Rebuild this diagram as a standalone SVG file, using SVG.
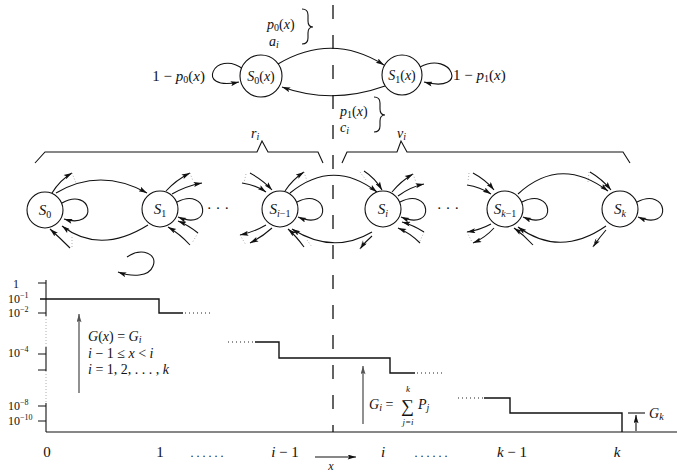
<svg xmlns="http://www.w3.org/2000/svg" width="677" height="472" viewBox="0 0 677 472">
<defs>
<marker id="ah" viewBox="0 0 10 6" refX="10" refY="3" markerWidth="9" markerHeight="5" orient="auto" markerUnits="userSpaceOnUse"><path d="M0,0 L10,3 L0,6 L2,3 z" fill="#111"/></marker>
<marker id="ahg" viewBox="0 0 10 6" refX="10" refY="3" markerWidth="9" markerHeight="5" orient="auto" markerUnits="userSpaceOnUse"><path d="M0,0 L10,3 L0,6 L2,3 z" fill="#555"/></marker>
</defs>
<style>
text{font-family:"Liberation Serif",serif;fill:#111}
.m{font-style:italic}
.lbl{font-size:14px}
.nd{font-size:15px;text-anchor:middle}
.sub{font-size:10px;font-style:normal}
.subi{font-size:10px;font-style:italic}
circle{fill:#fff;stroke:#111;stroke-width:1.1}
.e{fill:none;stroke:#111;stroke-width:1.1}
.a{fill:none;stroke:#111;stroke-width:1.1;marker-end:url(#ah)}
.g{fill:none;stroke:#555;stroke-width:1.3;marker-end:url(#ahg)}
.dot{fill:none;stroke:#999;stroke-width:0.8;stroke-dasharray:1 2}
.dk{fill:none;stroke:#222;stroke-width:1;stroke-dasharray:1 3}
.st{fill:none;stroke:#111;stroke-width:1.4}
.ax{font-size:12px}
.xl{font-size:15px;text-anchor:middle}
</style>

<!-- dashed divider -->
<line x1="333" y1="5" x2="333" y2="432" stroke="#111" stroke-width="1.3" stroke-dasharray="14 16"/>

<!-- connectors -->
<g id="connectors">
  <!-- top two-state chain -->
  <path class="a" d="M278,64 Q332,32 384,65"/>
  <path class="a" d="M385,86 Q332,105 282,87"/>
  <path class="a" d="M243,69 C215,48 193,92 239,82"/>
  <path class="a" d="M420,67 C452,50 470,94 424,82"/>
  <!-- braces -->
  <path class="e" d="M302,9 Q308,9 308,15 L308,21 Q308,27 313,27 Q308,27 308,33 L308,38 Q308,44 302,44"/>
  <path class="e" d="M374,97 Q380,97 380,103 L380,109 Q380,115 385,115 Q380,115 380,121 L380,126 Q380,132 374,132"/>
  <polyline class="e" points="35,163 45,152 257,152 262,141 268,152 318,152 323,163"/>
  <polyline class="e" points="342,163 347,152 397,152 401,141 407,152 623,152 630,163"/>
  <!-- S0 -->
  <path class="a" d="M52,193 Q60,180 72,173"/>
  <path class="dot" d="M72,173 L76,183"/>
  <path class="a" d="M62,203 C92,186 100,230 64,219"/>
  <path class="a" d="M70,248 Q60,238 50,229"/>
  <path class="dot" d="M72,247 L72,236"/>
  <path class="a" d="M56,193 Q100,167 147,193"/>
  <path class="a" d="M148,225 Q100,255 62,226"/>
  <!-- S1 -->
  <path class="a" d="M166,191 Q176,180 190,173"/>
  <path class="a" d="M172,194 Q186,186 202,183"/>
  <path class="dot" d="M190,173 L193,181"/>
  <path class="a" d="M198,233 Q188,225 178,221"/>
  <path class="a" d="M190,245 Q180,234 168,227"/>
  <path class="dot" d="M198,233 L192,243"/>
  <path class="a" d="M177,202 C208,186 214,232 178,217"/>
  <!-- S_{i-1} -->
  <path class="a" d="M242,183 Q256,185 266,192"/>
  <path class="a" d="M250,173 Q263,180 272,190"/>
  <path class="dot" d="M246,174 L244,183"/>
  <path class="a" d="M285,191 Q292,180 304,172"/>
  <path class="dot" d="M304,172 L307,181"/>
  <path class="a" d="M266,225 Q254,232 240,235"/>
  <path class="a" d="M272,228 Q262,237 250,243"/>
  <path class="dot" d="M240,235 L246,245"/>
  <path class="a" d="M304,247 Q296,236 288,229"/>
  <path class="a" d="M297,202 C328,186 334,232 298,217"/>
  <path class="a" d="M290,193 Q333,158 377,192"/>
  <path class="a" d="M372,232 Q333,255 292,229"/>
  <path class="dot" d="M307,240 L312,247"/>
  <!-- S_i -->
  <path class="a" d="M364,171 Q375,178 382,190"/>
  <path class="dot" d="M360,172 L366,180"/>
  <path class="a" d="M392,192 Q401,181 413,174"/>
  <path class="a" d="M398,196 Q410,187 424,184"/>
  <path class="dot" d="M413,174 L416,182"/>
  <path class="a" d="M424,232 Q413,225 402,222"/>
  <path class="a" d="M420,243 Q410,233 398,228"/>
  <path class="dot" d="M424,232 L420,241"/>
  <path class="a" d="M372,236 Q365,242 360,249"/>
  <path class="dot" d="M360,249 L363,240"/>
  <path class="a" d="M400,202 C431,186 437,232 401,217"/>
  <!-- S_{k-1} -->
  <path class="a" d="M467,185 Q480,187 491,194"/>
  <path class="a" d="M473,173 Q486,180 494,190"/>
  <path class="dot" d="M469,173 L468,182"/>
  <path class="a" d="M491,224 Q480,230 467,232"/>
  <path class="a" d="M494,228 Q485,238 473,243"/>
  <path class="dot" d="M467,232 L472,242"/>
  <path class="a" d="M533,245 Q524,235 514,228"/>
  <path class="a" d="M522,202 C553,186 559,232 523,217"/>
  <path class="a" d="M518,194 Q560,155 608,191"/>
  <path class="a" d="M606,226 Q560,258 518,227"/>
  <path class="dot" d="M589,172 L588,182"/>
  <!-- S_k -->
  <path class="a" d="M590,172 Q602,179 611,190"/>
  <path class="a" d="M606,230 Q599,238 593,247"/>
  <path class="dot" d="M593,247 L597,238"/>
  <path class="a" d="M637,202 C668,186 674,232 638,217"/>
  <!-- stray loop -->
  <path class="a" d="M127,257 C142,247 158,254 153,266 C149,277 132,277 118,272"/>
</g>

<!-- top nodes -->
<g id="S0x"><circle cx="261" cy="76" r="21"/><text class="nd" x="261" y="81" style="font-size:14px"><tspan class="m">S</tspan><tspan class="sub" dy="3">0</tspan><tspan dy="-3">(</tspan><tspan class="m">x</tspan>)</text></g>
<g id="S1x"><circle cx="402" cy="75" r="20"/><text class="nd" x="402" y="80" style="font-size:14px"><tspan class="m">S</tspan><tspan class="sub" dy="3">1</tspan><tspan dy="-3">(</tspan><tspan class="m">x</tspan>)</text></g>

<g id="toplabels">
<text class="lbl" x="267" y="29"><tspan class="m">p</tspan><tspan class="sub" dy="2">0</tspan><tspan dy="-2">(</tspan><tspan class="m">x</tspan>)</text>
<text class="lbl m" x="269" y="46">a<tspan class="subi" dy="2">i</tspan></text>
<text class="lbl" x="340" y="116"><tspan class="m">p</tspan><tspan class="sub" dy="2">1</tspan><tspan dy="-2">(</tspan><tspan class="m">x</tspan>)</text>
<text class="lbl m" x="340" y="132">c<tspan class="subi" dy="2">i</tspan></text>
<text class="lbl" x="205" y="81" text-anchor="end" style="font-size:15px">1  −  <tspan class="m">p</tspan><tspan class="sub" dy="2">0</tspan><tspan dy="-2">(</tspan><tspan class="m">x</tspan>)</text>
<text class="lbl" x="453" y="80" style="font-size:15px">1  −  <tspan class="m">p</tspan><tspan class="sub" dy="2">1</tspan><tspan dy="-2">(</tspan><tspan class="m">x</tspan>)</text>
<text class="lbl m" x="251" y="138">r<tspan class="subi" dy="2">i</tspan></text>
<text class="lbl m" x="397" y="138">v<tspan class="subi" dy="2">i</tspan></text>
</g>

<!-- middle nodes -->
<g id="S0"><circle cx="45" cy="210" r="18"/><text class="nd" x="45" y="215"><tspan class="m">S</tspan><tspan class="sub" dy="3">0</tspan></text></g>
<g id="S1"><circle cx="160" cy="209" r="18"/><text class="nd" x="160" y="214"><tspan class="m">S</tspan><tspan class="sub" dy="3">1</tspan></text></g>
<g id="Sim1"><circle cx="280" cy="209" r="18"/><text class="nd" x="280" y="214"><tspan class="m">S</tspan><tspan class="subi" dy="3">i</tspan><tspan class="sub">−1</tspan></text></g>
<g id="Si"><circle cx="383" cy="209" r="18"/><text class="nd" x="383" y="214"><tspan class="m">S</tspan><tspan class="subi" dy="3">i</tspan></text></g>
<g id="Skm1"><circle cx="505" cy="209" r="18"/><text class="nd" x="505" y="214"><tspan class="m">S</tspan><tspan class="subi" dy="3">k</tspan><tspan class="sub">−1</tspan></text></g>
<g id="Sk"><circle cx="620" cy="209" r="18"/><text class="nd" x="620" y="214"><tspan class="m">S</tspan><tspan class="subi" dy="3">k</tspan></text></g>
<text class="nd" x="218" y="213">· · ·</text>
<text class="nd" x="448" y="213">· · ·</text>

<!-- chart -->
<g id="chart">
  <line x1="46" y1="280" x2="46" y2="316" stroke="#111" stroke-width="1.1"/>
  <line x1="46" y1="316" x2="46" y2="347" class="dot"/>
  <line x1="46" y1="347" x2="46" y2="371" stroke="#111" stroke-width="1.1"/>
  <line x1="46" y1="371" x2="46" y2="403" class="dot"/>
  <line x1="46" y1="403" x2="46" y2="432" stroke="#111" stroke-width="1.1"/>
  <path class="e" d="M38,283 H46 M38,313 H46 M38,354 H46 M38,370 H46 M38,406 H46 M38,421 H46"/>
  <path class="e" d="M46,432 H677"/>
  <path class="st" d="M40,299 H159 V313 H183"/>
  <path class="dk" d="M185,313 H210 M228,342 H254 M417,373 H443 M458,398 H483"/>
  <path class="st" d="M255,342 H279 V358 H390 V373 H415"/>
  <path class="st" d="M484,398 H510 V413 H622 V432"/>
  <path class="e" d="M628,413 H645"/>
  <path class="a" d="M636,431 L636,415"/>
  <path class="g" d="M79,393 L79,314"/>
  <path class="g" d="M363,424 L363,366"/>
  <path class="a" d="M315,457 L356,457"/>
  <text class="ax" x="13" y="288">1</text>
  <text class="ax" x="8" y="303">10<tspan font-size="8" dy="-5">−1</tspan></text>
  <text class="ax" x="8" y="317">10<tspan font-size="8" dy="-5">−2</tspan></text>
  <text class="ax" x="8" y="357">10<tspan font-size="8" dy="-5">−4</tspan></text>
  <text class="ax" x="8" y="410">10<tspan font-size="8" dy="-5">−8</tspan></text>
  <text class="ax" x="8" y="425">10<tspan font-size="8" dy="-5">−10</tspan></text>
  <text x="88" y="341" style="font-size:14px"><tspan class="m">G</tspan>(<tspan class="m">x</tspan>) = <tspan class="m">G</tspan><tspan class="subi" dy="2">i</tspan></text>
  <text x="88" y="358" style="font-size:14px"><tspan class="m">i</tspan> − 1 ≤ <tspan class="m">x</tspan> &lt; <tspan class="m">i</tspan></text>
  <text x="88" y="374" style="font-size:14px"><tspan class="m">i</tspan> = 1, 2, . . . , <tspan class="m">k</tspan></text>
  <text x="369" y="409" style="font-size:14px"><tspan class="m">G</tspan><tspan class="subi" dy="2">i</tspan><tspan dy="-2"> =</tspan></text>
  <text x="401" y="412" style="font-size:18px">∑</text>
  <text class="m" x="408" y="392" style="font-size:9px" text-anchor="middle">k</text>
  <text class="m" x="408" y="425" style="font-size:9px" text-anchor="middle">j=i</text>
  <text x="418" y="409" style="font-size:14px"><tspan class="m">P</tspan><tspan class="subi" dy="2">j</tspan></text>
  <text x="649" y="418" style="font-size:14px"><tspan class="m">G</tspan><tspan class="subi" dy="2">k</tspan></text>
  <text class="xl" x="47" y="457">0</text>
  <text class="xl" x="160" y="457">1</text>
  <text class="xl" x="207" y="457" style="font-size:12px">. . . . . .</text>
  <text class="xl" x="285" y="457"><tspan class="m">i</tspan> − 1</text>
  <text class="xl m" x="331" y="470" style="font-size:12px">x</text>
  <text class="xl m" x="383" y="457">i</text>
  <text class="xl" x="431" y="457" style="font-size:12px">. . . . . .</text>
  <text class="xl" x="512" y="457"><tspan class="m">k</tspan> − 1</text>
  <text class="xl m" x="617" y="457">k</text>
</g>
</svg>
